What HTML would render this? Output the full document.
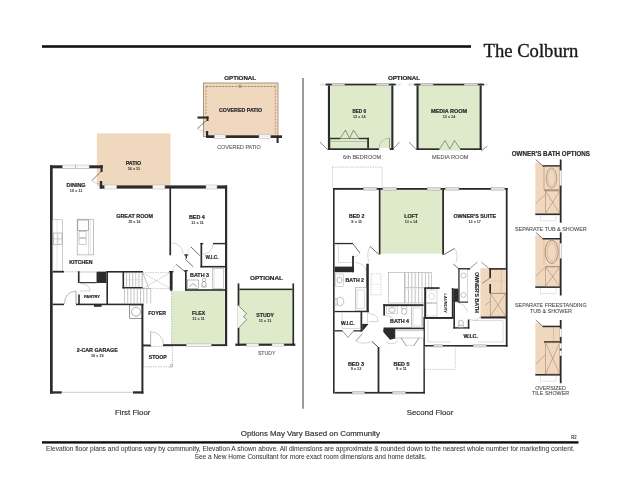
<!DOCTYPE html><html><head><meta charset="utf-8"><style>html,body{margin:0;padding:0;background:#fff;}svg{display:block;will-change:transform;}</style></head><body><svg width="621" height="480" viewBox="0 0 621 480"><rect x="42" y="45.2" width="429.00" height="2.60" fill="#111"/>
<text x="483.6" y="56.8" font-family="'Liberation Serif', serif" font-size="17.8" font-weight="normal" fill="#1a1a1a" stroke="#1a1a1a" stroke-width="0.35" textLength="94.60" lengthAdjust="spacingAndGlyphs">The Colburn</text>
<rect x="302" y="78" width="2.00" height="330.70" fill="#9a9a9a"/>
<text x="240.8" y="436.2" font-family="'Liberation Sans', sans-serif" font-size="7.4" font-weight="normal" fill="#333" stroke="#333" stroke-width="0.18" textLength="139.20" lengthAdjust="spacingAndGlyphs">Options May Vary Based on Community</text>
<text x="571.2" y="439.3" font-family="'Liberation Sans', sans-serif" font-size="4.6" font-weight="normal" fill="#444" stroke="#444" stroke-width="0.18" textLength="5.40" lengthAdjust="spacingAndGlyphs">R2</text>
<rect x="42" y="441.2" width="536.50" height="2.40" fill="#111"/>
<text x="46.1" y="451.4" font-family="'Liberation Sans', sans-serif" font-size="6.6" font-weight="normal" fill="#3a3a3a" stroke="#3a3a3a" stroke-width="0.06" textLength="528.60" lengthAdjust="spacingAndGlyphs">Elevation floor plans and options vary by community, Elevation A shown above. All dimensions are approximate &amp; rounded down to the nearest whole number for marketing content.</text>
<text x="194.6" y="459.2" font-family="'Liberation Sans', sans-serif" font-size="6.6" font-weight="normal" fill="#3a3a3a" stroke="#3a3a3a" stroke-width="0.06" textLength="231.90" lengthAdjust="spacingAndGlyphs">See a New Home Consultant for more exact room dimensions and home details.</text>
<text x="224.3" y="80" font-family="'Liberation Sans', sans-serif" font-size="6.0" font-weight="bold" fill="#2a2a2a" stroke="#2a2a2a" stroke-width="0.2" textLength="31.70" lengthAdjust="spacingAndGlyphs">OPTIONAL</text>
<rect x="203.5" y="83" width="74.50" height="53.50" fill="#f0d8be" stroke="#a88c74" stroke-width="0.9"/>
<line x1="206" y1="86.5" x2="275.5" y2="86.5" stroke="#8a6e58" stroke-width="0.8" stroke-dasharray="2,1.2"/>
<line x1="275.3" y1="86.5" x2="275.3" y2="134" stroke="#9a7e68" stroke-width="0.7" stroke-dasharray="2,1.2"/>
<line x1="206" y1="86.5" x2="206" y2="115" stroke="#9a7e68" stroke-width="0.7" stroke-dasharray="2,1.2"/>
<rect x="238.5" y="84.8" width="3.00" height="3.00" fill="#b89878" stroke="none" stroke-width="0.6"/>
<rect x="206" y="135.3" width="76.00" height="2.70" fill="#2b2b2b"/>
<rect x="214.4" y="134.9" width="11.20" height="3.50" fill="#fff" stroke="#aaa" stroke-width="0.5"/>
<line x1="214.4" y1="136.65" x2="225.6" y2="136.65" stroke="#c8c8c8" stroke-width="0.35"/>
<rect x="259" y="134.9" width="11.60" height="3.50" fill="#fff" stroke="#aaa" stroke-width="0.5"/>
<line x1="259" y1="136.65" x2="270.6" y2="136.65" stroke="#c8c8c8" stroke-width="0.35"/>
<rect x="276.6" y="136" width="2.00" height="7.00" fill="#2b2b2b"/>
<rect x="197.5" y="116.5" width="11.00" height="2.10" fill="#2b2b2b"/>
<rect x="206.5" y="116.5" width="2.00" height="4.50" fill="#2b2b2b"/>
<line x1="197.5" y1="128.5" x2="206.5" y2="120.5" stroke="#444" stroke-width="0.7"/>
<path d="M197.5 128.5 Q204 132 206.5 133" stroke="#aaa" stroke-width="0.5" fill="none"/>
<rect x="206" y="131" width="2.20" height="7.00" fill="#2b2b2b"/>
<text x="219" y="112.4" font-family="'Liberation Sans', sans-serif" font-size="5.0" font-weight="bold" fill="#2a2a2a" stroke="#2a2a2a" stroke-width="0.2" textLength="43.20" lengthAdjust="spacingAndGlyphs">COVERED PATIO</text>
<text x="217.2" y="149.4" font-family="'Liberation Sans', sans-serif" font-size="5.4" font-weight="normal" fill="#555" stroke="#555" stroke-width="0.08" textLength="43.60" lengthAdjust="spacingAndGlyphs">COVERED PATIO</text>
<rect x="96.8" y="133.4" width="73.70" height="52.60" fill="#f0d8be" stroke="none" stroke-width="0.6"/>
<text x="125.7" y="164.5" font-family="'Liberation Sans', sans-serif" font-size="4.9" font-weight="bold" fill="#2a2a2a" stroke="#2a2a2a" stroke-width="0.2" textLength="15.50" lengthAdjust="spacingAndGlyphs">PATIO</text>
<text x="127.67" y="169.70000000000002" font-family="'Liberation Sans', sans-serif" font-size="3.9" font-weight="bold" fill="#3a3a3a" stroke="#3a3a3a" stroke-width="0.05" textLength="12.46" lengthAdjust="spacingAndGlyphs">16 x 11</text>
<rect x="50" y="165.3" width="52.80" height="3.00" fill="#2b2b2b"/>
<rect x="62.5" y="165.0" width="13.30" height="3.60" fill="#fff" stroke="#aaa" stroke-width="0.5"/>
<line x1="62.5" y1="166.8" x2="75.8" y2="166.8" stroke="#c8c8c8" stroke-width="0.35"/>
<rect x="75.8" y="165.0" width="13.30" height="3.60" fill="#fff" stroke="#aaa" stroke-width="0.5"/>
<line x1="75.8" y1="166.8" x2="89.1" y2="166.8" stroke="#c8c8c8" stroke-width="0.35"/>
<rect x="100.5" y="165.3" width="2.10" height="6.70" fill="#2b2b2b"/>
<line x1="92" y1="180.5" x2="101" y2="171.5" stroke="#444" stroke-width="0.7"/>
<path d="M92 180.5 Q95 184 100.5 184" stroke="#aaa" stroke-width="0.5" fill="none"/>
<rect x="99.8" y="181" width="2.40" height="7.60" fill="#2b2b2b"/>
<rect x="50" y="165.3" width="2.70" height="228.30" fill="#2b2b2b"/>
<rect x="99.8" y="185.4" width="127.20" height="3.20" fill="#2b2b2b"/>
<rect x="104.5" y="185.0" width="12.10" height="4.00" fill="#fff" stroke="#aaa" stroke-width="0.5"/>
<line x1="104.5" y1="187.0" x2="116.6" y2="187.0" stroke="#c8c8c8" stroke-width="0.35"/>
<rect x="152.8" y="185.0" width="12.10" height="4.00" fill="#fff" stroke="#aaa" stroke-width="0.5"/>
<line x1="152.8" y1="187.0" x2="164.9" y2="187.0" stroke="#c8c8c8" stroke-width="0.35"/>
<rect x="206" y="185.0" width="11.00" height="4.00" fill="#fff" stroke="#aaa" stroke-width="0.5"/>
<line x1="206" y1="187.0" x2="217" y2="187.0" stroke="#c8c8c8" stroke-width="0.35"/>
<rect x="169.4" y="188" width="1.70" height="67.30" fill="#2b2b2b"/>
<rect x="225" y="185.4" width="2.20" height="160.60" fill="#2b2b2b"/>
<text x="66.6" y="186.5" font-family="'Liberation Sans', sans-serif" font-size="4.9" font-weight="bold" fill="#2a2a2a" stroke="#2a2a2a" stroke-width="0.2" textLength="19.00" lengthAdjust="spacingAndGlyphs">DINING</text>
<text x="69.87" y="191.5" font-family="'Liberation Sans', sans-serif" font-size="3.9" font-weight="bold" fill="#3a3a3a" stroke="#3a3a3a" stroke-width="0.05" textLength="12.46" lengthAdjust="spacingAndGlyphs">10 x 11</text>
<text x="116.3" y="218.3" font-family="'Liberation Sans', sans-serif" font-size="4.9" font-weight="bold" fill="#2a2a2a" stroke="#2a2a2a" stroke-width="0.2" textLength="36.70" lengthAdjust="spacingAndGlyphs">GREAT ROOM</text>
<text x="128.17" y="223.4" font-family="'Liberation Sans', sans-serif" font-size="3.9" font-weight="bold" fill="#3a3a3a" stroke="#3a3a3a" stroke-width="0.05" textLength="12.46" lengthAdjust="spacingAndGlyphs">15 x 16</text>
<text x="189" y="218.7" font-family="'Liberation Sans', sans-serif" font-size="4.9" font-weight="bold" fill="#2a2a2a" stroke="#2a2a2a" stroke-width="0.2" textLength="15.80" lengthAdjust="spacingAndGlyphs">BED 4</text>
<text x="191.27" y="223.6" font-family="'Liberation Sans', sans-serif" font-size="3.9" font-weight="bold" fill="#3a3a3a" stroke="#3a3a3a" stroke-width="0.05" textLength="12.46" lengthAdjust="spacingAndGlyphs">11 x 11</text>
<rect x="52.8" y="219.8" width="9.80" height="51.20" fill="#fff" stroke="#999" stroke-width="0.5"/>
<rect x="53.5" y="233" width="8.50" height="11.70" fill="#fff" stroke="#888" stroke-width="0.5"/>
<line x1="57.8" y1="233" x2="57.8" y2="244.7" stroke="#888" stroke-width="0.4"/>
<line x1="53.5" y1="238.8" x2="62" y2="238.8" stroke="#888" stroke-width="0.4"/>
<rect x="77.2" y="219.2" width="16.20" height="35.70" fill="#fff" stroke="#999" stroke-width="0.6"/>
<rect x="77.8" y="220" width="10.70" height="10.60" fill="#fff" stroke="#777" stroke-width="0.6"/>
<rect x="79" y="231.6" width="7.10" height="6.00" fill="#fff" stroke="#999" stroke-width="0.5"/>
<rect x="79" y="238.6" width="7.10" height="5.80" fill="#fff" stroke="#999" stroke-width="0.5"/>
<line x1="88.5" y1="219.2" x2="88.5" y2="254.9" stroke="#aaa" stroke-width="0.4"/>
<line x1="90.4" y1="219.2" x2="90.4" y2="254.9" stroke="#bbb" stroke-width="0.4"/>
<line x1="57" y1="219.8" x2="57" y2="271" stroke="#ccc" stroke-width="0.4"/>
<text x="69.2" y="263.8" font-family="'Liberation Sans', sans-serif" font-size="4.9" font-weight="bold" fill="#2a2a2a" stroke="#2a2a2a" stroke-width="0.2" textLength="23.30" lengthAdjust="spacingAndGlyphs">KITCHEN</text>
<rect x="52.7" y="270.9" width="11.30" height="1.70" fill="#2b2b2b"/>
<line x1="64" y1="271.8" x2="78" y2="271.8" stroke="#999" stroke-width="0.6" stroke-dasharray="1.5,1"/>
<rect x="77.9" y="271.3" width="1.90" height="11.70" fill="#2b2b2b"/>
<rect x="79.8" y="272" width="16.90" height="10.30" fill="#fff" stroke="#999" stroke-width="0.5"/>
<rect x="96.7" y="271.6" width="9.70" height="11.40" fill="#2b2b2b"/>
<rect x="79.8" y="282.1" width="16.90" height="1.10" fill="#2b2b2b"/>
<rect x="106.4" y="271.3" width="1.60" height="33.70" fill="#2b2b2b"/>
<rect x="106.4" y="271.0" width="36.60" height="1.60" fill="#2b2b2b"/>
<rect x="78.2" y="294.5" width="1.60" height="10.50" fill="#2b2b2b"/>
<path d="M79.8 283.5 Q90 284 90 291" stroke="#aaa" stroke-width="0.5" fill="none"/>
<line x1="79.8" y1="291" x2="90" y2="291" stroke="#aaa" stroke-width="0.5"/>
<text x="83.9" y="298.2" font-family="'Liberation Sans', sans-serif" font-size="4.3" font-weight="bold" fill="#2a2a2a" stroke="#2a2a2a" stroke-width="0.2" textLength="16.10" lengthAdjust="spacingAndGlyphs">PANTRY</text>
<rect x="52.7" y="303.6" width="11.30" height="1.60" fill="#2b2b2b"/>
<rect x="76" y="303.6" width="67.40" height="1.60" fill="#2b2b2b"/>
<path d="M64.5 304 Q64.5 292 76 291" stroke="#aaa" stroke-width="0.5" fill="none"/>
<line x1="76" y1="291" x2="76" y2="304" stroke="#666" stroke-width="0.6"/>
<rect x="94" y="305" width="7.60" height="1.80" fill="#2b2b2b"/>
<rect x="122.5" y="271.3" width="1.60" height="17.20" fill="#2b2b2b"/>
<rect x="122.5" y="287" width="20.10" height="1.50" fill="#2b2b2b"/>
<line x1="126.5" y1="272.6" x2="126.5" y2="287" stroke="#888" stroke-width="0.5"/>
<line x1="129.6" y1="272.6" x2="129.6" y2="287" stroke="#888" stroke-width="0.5"/>
<line x1="132.7" y1="272.6" x2="132.7" y2="287" stroke="#888" stroke-width="0.5"/>
<line x1="135.8" y1="272.6" x2="135.8" y2="287" stroke="#888" stroke-width="0.5"/>
<line x1="138.9" y1="272.6" x2="138.9" y2="287" stroke="#888" stroke-width="0.5"/>
<line x1="142.0" y1="272.6" x2="142.0" y2="287" stroke="#888" stroke-width="0.5"/>
<line x1="124.5" y1="279.8" x2="142.5" y2="279.8" stroke="#bbb" stroke-width="0.3"/>
<rect x="142.6" y="272.6" width="27.70" height="16.00" fill="none" stroke="#999" stroke-width="0.5" stroke-dasharray="1.5,1"/>
<line x1="142.6" y1="272.6" x2="170.3" y2="288.6" stroke="#aaa" stroke-width="0.4"/>
<line x1="142.6" y1="288.6" x2="170.3" y2="272.6" stroke="#aaa" stroke-width="0.4"/>
<line x1="142.6" y1="272.6" x2="149" y2="288.6" stroke="#888" stroke-width="0.5"/>
<line x1="124.5" y1="288.5" x2="124.5" y2="303.5" stroke="#888" stroke-width="0.5"/>
<line x1="127.7" y1="288.5" x2="127.7" y2="303.5" stroke="#888" stroke-width="0.5"/>
<line x1="130.9" y1="288.5" x2="130.9" y2="303.5" stroke="#888" stroke-width="0.5"/>
<line x1="134.1" y1="288.5" x2="134.1" y2="303.5" stroke="#888" stroke-width="0.5"/>
<line x1="137.3" y1="288.5" x2="137.3" y2="303.5" stroke="#888" stroke-width="0.5"/>
<line x1="140.5" y1="288.5" x2="140.5" y2="303.5" stroke="#888" stroke-width="0.5"/>
<line x1="143.7" y1="288.5" x2="143.7" y2="303.5" stroke="#888" stroke-width="0.5"/>
<line x1="146.9" y1="288.5" x2="146.9" y2="303.5" stroke="#888" stroke-width="0.5"/>
<line x1="123.3" y1="288.5" x2="150.7" y2="288.5" stroke="#999" stroke-width="0.5"/>
<line x1="150.7" y1="288.5" x2="150.7" y2="303.5" stroke="#999" stroke-width="0.5"/>
<rect x="170.5" y="271.3" width="2.10" height="19.20" fill="#2b2b2b"/>
<rect x="129.7" y="305.2" width="12.70" height="13.30" fill="#fff" stroke="#555" stroke-width="0.6"/>
<circle cx="136" cy="311.8" r="4.5" fill="none" stroke="#777" stroke-width="0.6"/>
<text x="148.2" y="314.9" font-family="'Liberation Sans', sans-serif" font-size="4.9" font-weight="bold" fill="#2a2a2a" stroke="#2a2a2a" stroke-width="0.2" textLength="17.90" lengthAdjust="spacingAndGlyphs">FOYER</text>
<rect x="169.8" y="271.5" width="2.20" height="19.00" fill="#2b2b2b"/>
<rect x="185" y="270.2" width="1.70" height="20.60" fill="#2b2b2b"/>
<rect x="185" y="289.2" width="42.00" height="1.70" fill="#2b2b2b"/>
<rect x="200.5" y="243" width="1.70" height="24.40" fill="#2b2b2b"/>
<rect x="200.5" y="242.9" width="2.70" height="1.40" fill="#2b2b2b"/>
<rect x="213" y="242.9" width="12.50" height="1.40" fill="#2b2b2b"/>
<rect x="200.5" y="265.9" width="25.00" height="1.60" fill="#2b2b2b"/>
<path d="M213 244 A10 10 0 0 1 203 254" stroke="#aaa" stroke-width="0.5" fill="none"/>
<text x="205.6" y="258.7" font-family="'Liberation Sans', sans-serif" font-size="4.6" font-weight="bold" fill="#2a2a2a" stroke="#2a2a2a" stroke-width="0.2" textLength="12.90" lengthAdjust="spacingAndGlyphs">W.I.C.</text>
<text x="190" y="277" font-family="'Liberation Sans', sans-serif" font-size="4.9" font-weight="bold" fill="#2a2a2a" stroke="#2a2a2a" stroke-width="0.2" textLength="19.00" lengthAdjust="spacingAndGlyphs">BATH 3</text>
<path d="M172 243 A11 11 0 0 1 183 254" stroke="#aaa" stroke-width="0.5" fill="none"/>
<line x1="190.8" y1="246.8" x2="199.8" y2="255.6" stroke="#333" stroke-width="0.7"/>
<path d="M190.8 246.8 A9 9 0 0 0 187.5 254.5" stroke="#bbb" stroke-width="0.4" fill="none"/>
<rect x="184.2" y="254.4" width="4.10" height="1.10" fill="#2b2b2b"/>
<rect x="185.6" y="254.4" width="1.40" height="4.10" fill="#2b2b2b"/>
<line x1="185.4" y1="259.3" x2="193.3" y2="266.8" stroke="#333" stroke-width="0.7"/>
<line x1="176.2" y1="264.3" x2="185" y2="271.8" stroke="#333" stroke-width="0.7"/>
<path d="M176.2 264.3 A9 9 0 0 0 172.5 271.5" stroke="#bbb" stroke-width="0.4" fill="none"/>
<rect x="184.2" y="270.2" width="3.80" height="1.00" fill="#2b2b2b"/>
<rect x="169" y="271.1" width="4.50" height="1.20" fill="#2b2b2b"/>
<rect x="187.5" y="280" width="11.00" height="8.50" fill="#fff" stroke="#777" stroke-width="0.5"/>
<path d="M189.5 287 Q193 280.5 196.5 287" stroke="#777" stroke-width="0.6" fill="none"/>
<path d="M202 287 Q201 282 204 281 Q207 282 206 287 Z" stroke="#777" stroke-width="0.6" fill="none"/>
<circle cx="204" cy="280" r="1.8" fill="none" stroke="#777" stroke-width="0.5"/>
<rect x="212.5" y="268.5" width="11.00" height="20.00" fill="#fff" stroke="#999" stroke-width="0.5"/>
<line x1="214" y1="268.5" x2="214" y2="288.5" stroke="#aaa" stroke-width="0.4"/>
<rect x="172" y="290.9" width="52.80" height="53.40" fill="#deeaca" stroke="none" stroke-width="0.6"/>
<line x1="171.6" y1="290.9" x2="171.6" y2="346" stroke="#8a9a7a" stroke-width="0.6" stroke-dasharray="1.5,1"/>
<rect x="143" y="344.5" width="8.00" height="1.90" fill="#2b2b2b"/>
<rect x="163" y="344.2" width="64.00" height="1.90" fill="#2b2b2b"/>
<rect x="186.4" y="343.9" width="24.80" height="2.50" fill="#fff" stroke="#aaa" stroke-width="0.5"/>
<line x1="186.4" y1="345.15" x2="211.2" y2="345.15" stroke="#c8c8c8" stroke-width="0.35"/>
<path d="M150.6 345 L150.6 331.6 A13 13 0 0 1 163.5 345" stroke="#999" stroke-width="0.5" fill="none"/>
<line x1="150.6" y1="331.6" x2="150.6" y2="345" stroke="#bbb" stroke-width="0.9"/>
<text x="192" y="315.2" font-family="'Liberation Sans', sans-serif" font-size="4.9" font-weight="bold" fill="#2a2a2a" stroke="#2a2a2a" stroke-width="0.2" textLength="13.10" lengthAdjust="spacingAndGlyphs">FLEX</text>
<text x="192.27" y="320.29999999999995" font-family="'Liberation Sans', sans-serif" font-size="3.9" font-weight="bold" fill="#3a3a3a" stroke="#3a3a3a" stroke-width="0.05" textLength="12.46" lengthAdjust="spacingAndGlyphs">11 x 11</text>
<rect x="143.2" y="346.4" width="29.20" height="20.40" fill="none" stroke="#999" stroke-width="0.6" stroke-dasharray="1.5,1"/>
<rect x="170.2" y="364.6" width="2.40" height="2.40" fill="none" stroke="#999" stroke-width="0.5"/>
<text x="148.7" y="358.7" font-family="'Liberation Sans', sans-serif" font-size="4.9" font-weight="bold" fill="#2a2a2a" stroke="#2a2a2a" stroke-width="0.2" textLength="18.10" lengthAdjust="spacingAndGlyphs">STOOP</text>
<rect x="141.4" y="304" width="2.00" height="89.60" fill="#2b2b2b"/>
<rect x="50" y="391.3" width="11.70" height="2.30" fill="#2b2b2b"/>
<rect x="133" y="391.3" width="10.40" height="2.30" fill="#2b2b2b"/>
<line x1="61.7" y1="392.3" x2="133" y2="392.3" stroke="#999" stroke-width="0.5"/>
<text x="76.7" y="351.9" font-family="'Liberation Sans', sans-serif" font-size="4.9" font-weight="bold" fill="#2a2a2a" stroke="#2a2a2a" stroke-width="0.2" textLength="41.10" lengthAdjust="spacingAndGlyphs">2-CAR GARAGE</text>
<text x="91.02" y="356.59999999999997" font-family="'Liberation Sans', sans-serif" font-size="3.9" font-weight="bold" fill="#3a3a3a" stroke="#3a3a3a" stroke-width="0.05" textLength="12.46" lengthAdjust="spacingAndGlyphs">19 x 19</text>
<path d="M64.5 304 Q64.5 292 76 291" stroke="#aaa" stroke-width="0.5" fill="none"/>
<text x="250" y="280.4" font-family="'Liberation Sans', sans-serif" font-size="6.0" font-weight="bold" fill="#2a2a2a" stroke="#2a2a2a" stroke-width="0.2" textLength="33.00" lengthAdjust="spacingAndGlyphs">OPTIONAL</text>
<rect x="239.4" y="290" width="53.00" height="53.80" fill="#deeaca" stroke="none" stroke-width="0.6"/>
<rect x="237.6" y="283.4" width="1.80" height="62.40" fill="#2b2b2b"/>
<rect x="292.4" y="283.4" width="1.70" height="62.40" fill="#2b2b2b"/>
<rect x="239.4" y="288.6" width="53.00" height="1.50" fill="#2b2b2b"/>
<rect x="235.3" y="343.6" width="60.00" height="2.20" fill="#2b2b2b"/>
<rect x="246.6" y="343.3" width="12.00" height="2.80" fill="#fff" stroke="#aaa" stroke-width="0.5"/>
<line x1="246.6" y1="344.70000000000005" x2="258.6" y2="344.70000000000005" stroke="#c8c8c8" stroke-width="0.35"/>
<rect x="272" y="343.3" width="12.00" height="2.80" fill="#fff" stroke="#aaa" stroke-width="0.5"/>
<line x1="272" y1="344.70000000000005" x2="284" y2="344.70000000000005" stroke="#c8c8c8" stroke-width="0.35"/>
<rect x="237.4" y="305.5" width="2.20" height="22.50" fill="#fff" stroke="none" stroke-width="0.6"/>
<path d="M238.5 305.5 L246.7 313.8 L243.5 316.7 L246.7 319.6 L238.5 328 Z" stroke="none" stroke-width="0" fill="#f1f5ea"/>
<path d="M238.5 305.5 L246.7 313.8 L243.5 316.7 L246.7 319.6 L238.5 328" stroke="#5a6650" stroke-width="0.7" fill="none"/>
<text x="256.3" y="316.7" font-family="'Liberation Sans', sans-serif" font-size="4.9" font-weight="bold" fill="#2a2a2a" stroke="#2a2a2a" stroke-width="0.2" textLength="17.60" lengthAdjust="spacingAndGlyphs">STUDY</text>
<text x="258.87" y="321.7" font-family="'Liberation Sans', sans-serif" font-size="3.9" font-weight="bold" fill="#3a3a3a" stroke="#3a3a3a" stroke-width="0.05" textLength="12.46" lengthAdjust="spacingAndGlyphs">11 x 11</text>
<text x="257.9" y="354.9" font-family="'Liberation Sans', sans-serif" font-size="4.9" font-weight="normal" fill="#555" stroke="#555" stroke-width="0.08" textLength="17.60" lengthAdjust="spacingAndGlyphs">STUDY</text>
<text x="387.9" y="80" font-family="'Liberation Sans', sans-serif" font-size="6.0" font-weight="bold" fill="#2a2a2a" stroke="#2a2a2a" stroke-width="0.2" textLength="32.10" lengthAdjust="spacingAndGlyphs">OPTIONAL</text>
<rect x="329.9" y="85.4" width="61.40" height="63.00" fill="#deeaca" stroke="none" stroke-width="0.6"/>
<rect x="327.9" y="83.7" width="2.10" height="66.30" fill="#2b2b2b"/>
<rect x="391.3" y="83.7" width="2.10" height="66.30" fill="#2b2b2b"/>
<rect x="320.2" y="83.9" width="80.60" height="1.30" fill="#e8e8e8" stroke="#d0d0d0" stroke-width="0.3"/>
<rect x="325.59999999999997" y="83.7" width="70.10" height="1.70" fill="#2b2b2b"/>
<rect x="327.9" y="148.3" width="65.50" height="1.70" fill="#2b2b2b"/>
<rect x="332" y="83.4" width="12.60" height="2.30" fill="#dfe3d6" stroke="#aaa" stroke-width="0.5"/>
<line x1="332" y1="84.55000000000001" x2="344.6" y2="84.55000000000001" stroke="#c8c8c8" stroke-width="0.35"/>
<rect x="376.5" y="83.4" width="12.30" height="2.30" fill="#dfe3d6" stroke="#aaa" stroke-width="0.5"/>
<line x1="376.5" y1="84.55000000000001" x2="388.8" y2="84.55000000000001" stroke="#c8c8c8" stroke-width="0.35"/>
<rect x="330" y="138.3" width="38.70" height="10.00" fill="#deeaca" stroke="#444" stroke-width="0.6"/>
<rect x="367.2" y="137.8" width="1.70" height="10.50" fill="#2b2b2b"/>
<rect x="330" y="137.8" width="10.00" height="1.40" fill="#2b2b2b"/>
<rect x="359" y="137.8" width="9.90" height="1.40" fill="#2b2b2b"/>
<line x1="331" y1="141.5" x2="367" y2="141.5" stroke="#777" stroke-width="0.4"/>
<path d="M340 138.5 L345.5 130 L349.5 138.5 M349.5 138.5 L353.5 130 L359 138.5" stroke="#555" stroke-width="0.6" fill="none"/>
<rect x="379" y="147.8" width="10.80" height="2.70" fill="#fff" stroke="none" stroke-width="0.6"/>
<path d="M379 149 Q379 139 389.5 138" stroke="#999" stroke-width="0.5" fill="none"/>
<line x1="389.5" y1="138" x2="389.5" y2="149" stroke="#555" stroke-width="0.6"/>
<line x1="320" y1="142" x2="327.9" y2="150" stroke="#444" stroke-width="0.6"/>
<line x1="392.1" y1="150" x2="399.5" y2="142" stroke="#444" stroke-width="0.6"/>
<text x="352.5" y="112.5" font-family="'Liberation Sans', sans-serif" font-size="5.0" font-weight="bold" fill="#2a2a2a" stroke="#2a2a2a" stroke-width="0.2" textLength="13.50" lengthAdjust="spacingAndGlyphs">BED 6</text>
<text x="353.02" y="117.80000000000001" font-family="'Liberation Sans', sans-serif" font-size="3.9" font-weight="bold" fill="#3a3a3a" stroke="#3a3a3a" stroke-width="0.05" textLength="12.46" lengthAdjust="spacingAndGlyphs">13 x 14</text>
<text x="343.1" y="159.1" font-family="'Liberation Sans', sans-serif" font-size="5.2" font-weight="normal" fill="#555" stroke="#555" stroke-width="0.08" textLength="38.15" lengthAdjust="spacingAndGlyphs">6th BEDROOM</text>
<rect x="418.5" y="85.4" width="61.10" height="63.00" fill="#deeaca" stroke="none" stroke-width="0.6"/>
<rect x="416.5" y="83.7" width="2.10" height="66.30" fill="#2b2b2b"/>
<rect x="479.6" y="83.7" width="2.10" height="66.30" fill="#2b2b2b"/>
<rect x="408.8" y="83.9" width="78.60" height="1.30" fill="#e8e8e8" stroke="#d0d0d0" stroke-width="0.3"/>
<rect x="414.2" y="83.7" width="69.80" height="1.70" fill="#2b2b2b"/>
<rect x="416.5" y="148.3" width="65.20" height="1.70" fill="#2b2b2b"/>
<rect x="420.7" y="83.4" width="12.30" height="2.30" fill="#dfe3d6" stroke="#aaa" stroke-width="0.5"/>
<line x1="420.7" y1="84.55000000000001" x2="433" y2="84.55000000000001" stroke="#c8c8c8" stroke-width="0.35"/>
<rect x="464.4" y="83.4" width="13.30" height="2.30" fill="#dfe3d6" stroke="#aaa" stroke-width="0.5"/>
<line x1="464.4" y1="84.55000000000001" x2="477.7" y2="84.55000000000001" stroke="#c8c8c8" stroke-width="0.35"/>
<rect x="439.4" y="147.8" width="20.80" height="2.70" fill="#deeaca" stroke="none" stroke-width="0.6"/>
<path d="M439.4 149 L445 140.5 L449.8 149 M449.8 149 L454.5 140.5 L460.2 149" stroke="#555" stroke-width="0.6" fill="none"/>
<line x1="409" y1="142" x2="416.5" y2="150" stroke="#444" stroke-width="0.6"/>
<line x1="481.4" y1="151" x2="487.4" y2="146" stroke="#444" stroke-width="0.6"/>
<text x="431" y="112.5" font-family="'Liberation Sans', sans-serif" font-size="5.0" font-weight="bold" fill="#2a2a2a" stroke="#2a2a2a" stroke-width="0.2" textLength="36.00" lengthAdjust="spacingAndGlyphs">MEDIA ROOM</text>
<text x="442.77" y="117.80000000000001" font-family="'Liberation Sans', sans-serif" font-size="3.9" font-weight="bold" fill="#3a3a3a" stroke="#3a3a3a" stroke-width="0.05" textLength="12.46" lengthAdjust="spacingAndGlyphs">13 x 14</text>
<text x="432" y="159.1" font-family="'Liberation Sans', sans-serif" font-size="5.2" font-weight="normal" fill="#555" stroke="#555" stroke-width="0.08" textLength="36.50" lengthAdjust="spacingAndGlyphs">MEDIA ROOM</text>
<rect x="332.5" y="167.1" width="49.70" height="20.90" fill="none" stroke="#aaa" stroke-width="0.6" stroke-dasharray="1.5,1"/>
<rect x="380.5" y="189.8" width="61.50" height="63.90" fill="#deeaca" stroke="none" stroke-width="0.6"/>
<rect x="333" y="188" width="174.60" height="1.80" fill="#2b2b2b"/>
<rect x="333" y="188" width="1.60" height="205.60" fill="#2b2b2b"/>
<rect x="363.4" y="187.6" width="13.20" height="2.60" fill="#e4e6df" stroke="#aaa" stroke-width="0.5"/>
<line x1="363.4" y1="188.89999999999998" x2="376.6" y2="188.89999999999998" stroke="#c8c8c8" stroke-width="0.35"/>
<rect x="382.9" y="187.6" width="13.50" height="2.60" fill="#e4e6df" stroke="#aaa" stroke-width="0.5"/>
<line x1="382.9" y1="188.89999999999998" x2="396.4" y2="188.89999999999998" stroke="#c8c8c8" stroke-width="0.35"/>
<rect x="427.3" y="187.6" width="13.10" height="2.60" fill="#e4e6df" stroke="#aaa" stroke-width="0.5"/>
<line x1="427.3" y1="188.89999999999998" x2="440.4" y2="188.89999999999998" stroke="#c8c8c8" stroke-width="0.35"/>
<rect x="445.3" y="187.6" width="13.60" height="2.60" fill="#e4e6df" stroke="#aaa" stroke-width="0.5"/>
<line x1="445.3" y1="188.89999999999998" x2="458.9" y2="188.89999999999998" stroke="#c8c8c8" stroke-width="0.35"/>
<rect x="491" y="187.6" width="13.60" height="2.60" fill="#e4e6df" stroke="#aaa" stroke-width="0.5"/>
<line x1="491" y1="188.89999999999998" x2="504.6" y2="188.89999999999998" stroke="#c8c8c8" stroke-width="0.35"/>
<rect x="378.8" y="188" width="1.70" height="66.40" fill="#2b2b2b"/>
<rect x="442.2" y="188" width="1.80" height="66.60" fill="#2b2b2b"/>
<rect x="505.8" y="188" width="1.80" height="158.60" fill="#2b2b2b"/>
<text x="349" y="217.75" font-family="'Liberation Sans', sans-serif" font-size="5.0" font-weight="bold" fill="#2a2a2a" stroke="#2a2a2a" stroke-width="0.2" textLength="15.40" lengthAdjust="spacingAndGlyphs">BED 2</text>
<text x="351.36" y="222.8" font-family="'Liberation Sans', sans-serif" font-size="3.9" font-weight="bold" fill="#3a3a3a" stroke="#3a3a3a" stroke-width="0.05" textLength="10.68" lengthAdjust="spacingAndGlyphs">9 x 11</text>
<text x="404.3" y="218" font-family="'Liberation Sans', sans-serif" font-size="5.0" font-weight="bold" fill="#2a2a2a" stroke="#2a2a2a" stroke-width="0.2" textLength="13.50" lengthAdjust="spacingAndGlyphs">LOFT</text>
<text x="404.77" y="222.8" font-family="'Liberation Sans', sans-serif" font-size="3.9" font-weight="bold" fill="#3a3a3a" stroke="#3a3a3a" stroke-width="0.05" textLength="12.46" lengthAdjust="spacingAndGlyphs">13 x 14</text>
<text x="453.4" y="218" font-family="'Liberation Sans', sans-serif" font-size="5.0" font-weight="bold" fill="#2a2a2a" stroke="#2a2a2a" stroke-width="0.2" textLength="42.60" lengthAdjust="spacingAndGlyphs">OWNER'S SUITE</text>
<text x="468.47" y="222.8" font-family="'Liberation Sans', sans-serif" font-size="3.9" font-weight="bold" fill="#3a3a3a" stroke="#3a3a3a" stroke-width="0.05" textLength="12.46" lengthAdjust="spacingAndGlyphs">13 x 17</text>
<line x1="370" y1="246.3" x2="378.8" y2="254.4" stroke="#333" stroke-width="0.7"/>
<path d="M370 246.3 Q366 254 369 262" stroke="#aaa" stroke-width="0.5" fill="none"/>
<line x1="444" y1="254.5" x2="454.6" y2="248.5" stroke="#333" stroke-width="0.7"/>
<path d="M454.6 248.5 Q459 255 456 262" stroke="#aaa" stroke-width="0.5" fill="none"/>
<rect x="334.6" y="242.9" width="18.50" height="1.30" fill="#2b2b2b"/>
<line x1="353.1" y1="244" x2="360" y2="253" stroke="#333" stroke-width="0.7"/>
<path d="M360 253 Q356 258 353.5 256" stroke="#aaa" stroke-width="0.4" fill="none"/>
<rect x="352.1" y="255.9" width="1.80" height="16.30" fill="#2b2b2b"/>
<rect x="334.6" y="266.6" width="19.30" height="5.60" fill="#2b2b2b"/>
<path d="M338.5 245 L338.5 262.5 L352 262.5" stroke="#bbb" stroke-width="0.5" fill="none"/>
<path d="M355 262.5 Q365 263 366.5 272" stroke="#aaa" stroke-width="0.5" fill="none"/>
<rect x="366.3" y="263.7" width="2.50" height="48.60" fill="#2b2b2b"/>
<rect x="334.6" y="310.9" width="34.20" height="1.30" fill="#2b2b2b"/>
<rect x="355.4" y="287.8" width="10.90" height="22.50" fill="#fff" stroke="#888" stroke-width="0.5"/>
<rect x="357" y="290" width="7.80" height="18.50" fill="#fff" stroke="#aaa" stroke-width="0.4"/>
<rect x="335.5" y="274" width="8.00" height="12.50" fill="#fff" stroke="#999" stroke-width="0.4"/>
<ellipse cx="339.5" cy="280" rx="2.6" ry="3" fill="none" stroke="#777" stroke-width="0.5"/>
<path d="M337 302 Q337 297 340 297 Q344 297.5 344 302 Q343 306 340 306 Q337 306 337 302 Z" stroke="#888" stroke-width="0.5" fill="none"/>
<rect x="335" y="298.5" width="2.00" height="7.00" fill="#fff" stroke="#888" stroke-width="0.4"/>
<text x="345.6" y="282.2" font-family="'Liberation Sans', sans-serif" font-size="5.0" font-weight="bold" fill="#2a2a2a" stroke="#2a2a2a" stroke-width="0.2" textLength="18.40" lengthAdjust="spacingAndGlyphs">BATH 2</text>
<rect x="371" y="273.8" width="9.90" height="21.00" fill="none" stroke="#aaa" stroke-width="0.5" stroke-dasharray="1.5,1"/>
<line x1="371" y1="284.3" x2="380.9" y2="284.3" stroke="#bbb" stroke-width="0.4" stroke-dasharray="1.5,1"/>
<rect x="334.6" y="330.2" width="7.90" height="1.30" fill="#2b2b2b"/>
<rect x="353.5" y="330.2" width="8.50" height="1.30" fill="#2b2b2b"/>
<path d="M342.5 331 L348 337.5 L353.5 331" stroke="#555" stroke-width="0.6" fill="none"/>
<rect x="360.5" y="312" width="1.70" height="19.50" fill="#2b2b2b"/>
<rect x="362.2" y="312.2" width="5.30" height="11.80" fill="#fff" stroke="#999" stroke-width="0.4"/>
<path d="M362.2 331.5 L368.5 324 L362.2 324 Z" stroke="#2b2b2b" stroke-width="0" fill="#2b2b2b"/>
<path d="M368.5 313.5 Q378 314 378 321.5 L368.5 321.5" stroke="#aaa" stroke-width="0.5" fill="none"/>
<path d="M342 312.5 L342 328.5 L360.5 328.5" stroke="#bbb" stroke-width="0.5" fill="none"/>
<text x="341" y="325.3" font-family="'Liberation Sans', sans-serif" font-size="4.6" font-weight="bold" fill="#2a2a2a" stroke="#2a2a2a" stroke-width="0.2" textLength="13.60" lengthAdjust="spacingAndGlyphs">W.I.C.</text>
<rect x="334.6" y="391.9" width="90.20" height="1.70" fill="#2b2b2b"/>
<rect x="352.2" y="391.5" width="12.20" height="2.50" fill="#e4e6df" stroke="#aaa" stroke-width="0.5"/>
<line x1="352.2" y1="392.75" x2="364.4" y2="392.75" stroke="#c8c8c8" stroke-width="0.35"/>
<rect x="392.5" y="391.5" width="12.80" height="2.50" fill="#e4e6df" stroke="#aaa" stroke-width="0.5"/>
<line x1="392.5" y1="392.75" x2="405.3" y2="392.75" stroke="#c8c8c8" stroke-width="0.35"/>
<rect x="377.6" y="347" width="1.80" height="46.00" fill="#2b2b2b"/>
<line x1="372" y1="341.5" x2="378.5" y2="347.5" stroke="#222" stroke-width="0.8"/>
<path d="M356 341 Q362 345 372 341.5" stroke="#aaa" stroke-width="0.5" fill="none"/>
<line x1="356" y1="341" x2="362.5" y2="333.5" stroke="#555" stroke-width="0.6"/>
<path d="M386 342 Q392 346 398 341" stroke="#aaa" stroke-width="0.5" fill="none"/>
<rect x="423.4" y="317" width="1.50" height="76.60" fill="#2b2b2b"/>
<text x="347.9" y="365.7" font-family="'Liberation Sans', sans-serif" font-size="5.0" font-weight="bold" fill="#2a2a2a" stroke="#2a2a2a" stroke-width="0.2" textLength="16.10" lengthAdjust="spacingAndGlyphs">BED 3</text>
<text x="350.66" y="370.4" font-family="'Liberation Sans', sans-serif" font-size="3.9" font-weight="bold" fill="#3a3a3a" stroke="#3a3a3a" stroke-width="0.05" textLength="10.68" lengthAdjust="spacingAndGlyphs">9 x 13</text>
<text x="393.5" y="365.7" font-family="'Liberation Sans', sans-serif" font-size="5.0" font-weight="bold" fill="#2a2a2a" stroke="#2a2a2a" stroke-width="0.2" textLength="15.90" lengthAdjust="spacingAndGlyphs">BED 5</text>
<text x="396.11" y="370.4" font-family="'Liberation Sans', sans-serif" font-size="3.9" font-weight="bold" fill="#3a3a3a" stroke="#3a3a3a" stroke-width="0.05" textLength="10.68" lengthAdjust="spacingAndGlyphs">9 x 11</text>
<rect x="383.6" y="327.5" width="40.40" height="1.70" fill="#2b2b2b"/>
<path d="M383.3 329 L395.2 329 L395.2 338.5 L390 339.8 L383.3 332 Z" stroke="#2b2b2b" stroke-width="0" fill="#2b2b2b"/>
<rect x="395.2" y="330.8" width="28.20" height="7.20" fill="#fff" stroke="#999" stroke-width="0.5"/>
<path d="M401 338 L406.5 346 M419 338 L413.5 346" stroke="#555" stroke-width="0.6" fill="none"/>
<path d="M406.5 346 Q410 344 413.5 346" stroke="#aaa" stroke-width="0.4" fill="none"/>
<rect x="383.3" y="304.2" width="40.20" height="1.90" fill="#2b2b2b"/>
<rect x="383.3" y="304.2" width="1.70" height="11.40" fill="#2b2b2b"/>
<rect x="411.5" y="306.1" width="11.30" height="21.40" fill="#fff" stroke="#888" stroke-width="0.5"/>
<rect x="413" y="308" width="8.50" height="18.00" fill="#fff" stroke="#aaa" stroke-width="0.4"/>
<rect x="386.6" y="306.5" width="11.20" height="7.00" fill="#fff" stroke="#999" stroke-width="0.4"/>
<ellipse cx="392" cy="310" rx="3.3" ry="2.4" fill="none" stroke="#777" stroke-width="0.5"/>
<ellipse cx="404.2" cy="311.5" rx="2.6" ry="3" fill="none" stroke="#777" stroke-width="0.5"/>
<rect x="401.5" y="306.2" width="5.50" height="2.00" fill="#fff" stroke="#888" stroke-width="0.4"/>
<text x="390.1" y="322.7" font-family="'Liberation Sans', sans-serif" font-size="5.0" font-weight="bold" fill="#2a2a2a" stroke="#2a2a2a" stroke-width="0.2" textLength="19.00" lengthAdjust="spacingAndGlyphs">BATH 4</text>
<path d="M385 315.6 Q394 316 394 322" stroke="#aaa" stroke-width="0.5" fill="none"/>
<rect x="388.6" y="272.6" width="42.80" height="30.40" fill="none" stroke="#999" stroke-width="0.5"/>
<line x1="405.0" y1="272.6" x2="405.0" y2="287.2" stroke="#888" stroke-width="0.5"/>
<line x1="408.4" y1="272.6" x2="408.4" y2="287.2" stroke="#888" stroke-width="0.5"/>
<line x1="411.8" y1="272.6" x2="411.8" y2="287.2" stroke="#888" stroke-width="0.5"/>
<line x1="415.2" y1="272.6" x2="415.2" y2="287.2" stroke="#888" stroke-width="0.5"/>
<line x1="418.6" y1="272.6" x2="418.6" y2="287.2" stroke="#888" stroke-width="0.5"/>
<line x1="422.0" y1="272.6" x2="422.0" y2="287.2" stroke="#888" stroke-width="0.5"/>
<line x1="425.4" y1="272.6" x2="425.4" y2="287.2" stroke="#888" stroke-width="0.5"/>
<line x1="428.8" y1="272.6" x2="428.8" y2="287.2" stroke="#888" stroke-width="0.5"/>
<line x1="405.0" y1="288.8" x2="405.0" y2="303" stroke="#888" stroke-width="0.5"/>
<line x1="408.4" y1="288.8" x2="408.4" y2="303" stroke="#888" stroke-width="0.5"/>
<line x1="411.8" y1="288.8" x2="411.8" y2="303" stroke="#888" stroke-width="0.5"/>
<line x1="415.2" y1="288.8" x2="415.2" y2="303" stroke="#888" stroke-width="0.5"/>
<line x1="418.6" y1="288.8" x2="418.6" y2="303" stroke="#888" stroke-width="0.5"/>
<line x1="422.0" y1="288.8" x2="422.0" y2="303" stroke="#888" stroke-width="0.5"/>
<line x1="404.6" y1="272.6" x2="404.6" y2="303" stroke="#999" stroke-width="0.5"/>
<line x1="404.6" y1="287.8" x2="424" y2="287.8" stroke="#888" stroke-width="0.6"/>
<rect x="424.2" y="287.2" width="15.40" height="1.70" fill="#2b2b2b"/>
<rect x="424.2" y="288" width="1.80" height="30.60" fill="#2b2b2b"/>
<rect x="424.2" y="317" width="29.40" height="1.70" fill="#2b2b2b"/>
<rect x="426.5" y="290" width="10.50" height="12.50" fill="#fff" stroke="#999" stroke-width="0.4"/>
<rect x="426.5" y="303.5" width="10.50" height="12.50" fill="#fff" stroke="#999" stroke-width="0.4"/>
<circle cx="431.7" cy="296.3" r="3" fill="none" stroke="#aaa" stroke-width="0.4"/>
<text x="0" y="0" font-family="Liberation Sans, sans-serif" font-size="3.8" font-weight="bold" fill="#2a2a2a" textLength="19.5" lengthAdjust="spacingAndGlyphs" transform="translate(443.6 293.5) rotate(90)">LAUNDRY</text>
<rect x="451.8" y="288" width="1.60" height="30.00" fill="#2b2b2b"/>
<rect x="453.2" y="288.6" width="5.10" height="13.20" fill="#2b2b2b"/>
<rect x="480.4" y="268.2" width="25.60" height="48.60" fill="#f0d8be" stroke="none" stroke-width="0.6"/>
<rect x="458.3" y="268.1" width="11.70" height="1.60" fill="#2b2b2b"/>
<rect x="489.3" y="268.1" width="16.70" height="1.60" fill="#2b2b2b"/>
<rect x="458.3" y="268.1" width="1.50" height="34.60" fill="#2b2b2b"/>
<rect x="458.3" y="301.3" width="9.70" height="1.40" fill="#2b2b2b"/>
<line x1="453.3" y1="264" x2="458.5" y2="268.6" stroke="#333" stroke-width="0.7"/>
<line x1="470" y1="268.5" x2="477.3" y2="262" stroke="#555" stroke-width="0.6"/>
<line x1="489" y1="268.5" x2="481.3" y2="262" stroke="#555" stroke-width="0.6"/>
<path d="M470 268.5 Q474 266 477.3 262" stroke="#bbb" stroke-width="0.4" fill="none"/>
<rect x="459.8" y="269.7" width="7.50" height="31.60" fill="#fff" stroke="#999" stroke-width="0.4"/>
<circle cx="463.5" cy="275.5" r="2.5" fill="none" stroke="#888" stroke-width="0.5"/>
<circle cx="463.5" cy="295" r="2.5" fill="none" stroke="#888" stroke-width="0.5"/>
<text x="0" y="0" font-family="Liberation Sans, sans-serif" font-size="4.8" font-weight="bold" fill="#2a2a2a" stroke="#2a2a2a" stroke-width="0.15" textLength="40.7" lengthAdjust="spacingAndGlyphs" transform="translate(475.2 272) rotate(90)">OWNER'S BATH</text>
<rect x="489.3" y="268.1" width="1.70" height="9.90" fill="#2b2b2b"/>
<line x1="490" y1="278" x2="482" y2="283.5" stroke="#555" stroke-width="0.6"/>
<rect x="489.3" y="284" width="1.70" height="9.30" fill="#2b2b2b"/>
<line x1="491" y1="293.3" x2="506" y2="293.3" stroke="#b09070" stroke-width="0.7"/>
<line x1="501.3" y1="270" x2="501.3" y2="293" stroke="#c0a088" stroke-width="0.4"/>
<line x1="491" y1="281" x2="506" y2="281" stroke="#c8ab92" stroke-width="0.3"/>
<rect x="490.2" y="293.3" width="15.60" height="23.00" fill="none" stroke="#9a7a60" stroke-width="0.5"/>
<line x1="490.2" y1="293.3" x2="505.8" y2="316.3" stroke="#9a7a60" stroke-width="0.5"/>
<line x1="490.2" y1="316.3" x2="505.8" y2="293.3" stroke="#9a7a60" stroke-width="0.5"/>
<line x1="485.3" y1="305.3" x2="490.2" y2="301.3" stroke="#9a7a60" stroke-width="0.5"/>
<rect x="480.7" y="316.5" width="25.30" height="2.00" fill="#2b2b2b"/>
<rect x="453.4" y="301" width="1.60" height="27.50" fill="#2b2b2b"/>
<rect x="453.4" y="327.2" width="16.00" height="1.40" fill="#2b2b2b"/>
<rect x="467.8" y="319.5" width="1.60" height="9.10" fill="#2b2b2b"/>
<ellipse cx="461" cy="323" rx="2.4" ry="2.9" fill="none" stroke="#777" stroke-width="0.5"/>
<rect x="458.5" y="325.5" width="5.00" height="1.70" fill="#fff" stroke="#888" stroke-width="0.4"/>
<path d="M455 302 Q465 303 467.5 312" stroke="#aaa" stroke-width="0.5" fill="none"/>
<path d="M469.4 319.5 Q478 322 480 316.5" stroke="#aaa" stroke-width="0.5" fill="none"/>
<rect x="424" y="317.2" width="29.50" height="1.60" fill="#2b2b2b"/>
<rect x="424" y="345" width="83.60" height="1.60" fill="#2b2b2b"/>
<rect x="433.8" y="344.6" width="9.00" height="2.40" fill="#e4e6df" stroke="#aaa" stroke-width="0.5"/>
<line x1="433.8" y1="345.8" x2="442.8" y2="345.8" stroke="#c8c8c8" stroke-width="0.35"/>
<rect x="473.2" y="344.6" width="13.10" height="2.40" fill="#e4e6df" stroke="#aaa" stroke-width="0.5"/>
<line x1="473.2" y1="345.8" x2="486.3" y2="345.8" stroke="#c8c8c8" stroke-width="0.35"/>
<path d="M428 320 L428 342 M428 342 L451 342" stroke="#bbb" stroke-width="0.5" fill="none"/>
<path d="M473 320.5 L503 320.5 L503 342 L478 342" stroke="#bbb" stroke-width="0.5" fill="none"/>
<text x="463.4" y="337.5" font-family="'Liberation Sans', sans-serif" font-size="4.6" font-weight="bold" fill="#2a2a2a" stroke="#2a2a2a" stroke-width="0.2" textLength="14.50" lengthAdjust="spacingAndGlyphs">W.I.C.</text>
<rect x="424.8" y="346.6" width="30.50" height="22.80" fill="none" stroke="#aaa" stroke-width="0.6" stroke-dasharray="1.5,1"/>
<text x="511.7" y="156" font-family="'Liberation Sans', sans-serif" font-size="6.7" font-weight="bold" fill="#2a2a2a" stroke="#2a2a2a" stroke-width="0.2" textLength="78.30" lengthAdjust="spacingAndGlyphs">OWNER'S BATH OPTIONS</text>
<path d="M535.3 162.7 L538.5 162.7 L542.5 165.5 L560 165.5 L560 213.7 L535.3 213.7 Z" stroke="none" stroke-width="0" fill="#f0d8be"/>
<line x1="535.8" y1="159.7" x2="542.5" y2="165.5" stroke="#444" stroke-width="0.7"/>
<rect x="542.5" y="165.2" width="18.00" height="1.50" fill="#2b2b2b"/>
<rect x="559.8" y="159.5" width="1.80" height="63.20" fill="#2b2b2b"/>
<rect x="535.3" y="213.5" width="25.20" height="1.60" fill="#2b2b2b"/>
<path d="M540.5 215.1 L540.5 220.7 L556 220.7 L556 215.1" stroke="#bbb" stroke-width="0.4" fill="none"/>
<rect x="544" y="166.7" width="15.80" height="22.80" fill="none" stroke="#9a7a62" stroke-width="0.5"/>
<ellipse cx="551.5" cy="178.0" rx="5.2" ry="10" fill="none" stroke="#9a7a62" stroke-width="0.6"/>
<ellipse cx="551.5" cy="178.0" rx="3.8" ry="8.2" fill="none" stroke="#c0a088" stroke-width="0.4"/>
<rect x="544" y="189.5" width="15.80" height="1.50" fill="#b8a090"/>
<rect x="545.5" y="191.0" width="14.30" height="22.50" fill="none" stroke="#9a7a62" stroke-width="0.5"/>
<line x1="545.5" y1="191.0" x2="559.8" y2="213.5" stroke="#9a7a62" stroke-width="0.5"/>
<line x1="545.5" y1="213.5" x2="559.8" y2="191.0" stroke="#9a7a62" stroke-width="0.5"/>
<line x1="535.8" y1="203.7" x2="541.5" y2="197.7" stroke="#9a7a62" stroke-width="0.5"/>
<line x1="541.5" y1="197.7" x2="545.5" y2="194.7" stroke="#9a7a62" stroke-width="0.5"/>
<rect x="559.6" y="170.5" width="2.20" height="15.00" fill="#f4f4f4" stroke="#bbb" stroke-width="0.4"/>
<text x="515" y="231" font-family="'Liberation Sans', sans-serif" font-size="5.3" font-weight="normal" fill="#4a4a4a" stroke="#4a4a4a" stroke-width="0.08" textLength="71.70" lengthAdjust="spacingAndGlyphs">SEPARATE TUB &amp; SHOWER</text>
<path d="M535.3 235.5 L538.5 235.5 L542.5 238.3 L560 238.3 L560 286.5 L535.3 286.5 Z" stroke="none" stroke-width="0" fill="#f0d8be"/>
<line x1="535.8" y1="232.5" x2="542.5" y2="238.3" stroke="#444" stroke-width="0.7"/>
<rect x="542.5" y="238.0" width="18.00" height="1.50" fill="#2b2b2b"/>
<rect x="559.8" y="232.3" width="1.80" height="63.20" fill="#2b2b2b"/>
<rect x="535.3" y="286.3" width="25.20" height="1.60" fill="#2b2b2b"/>
<path d="M540.5 287.9 L540.5 293.5 L556 293.5 L556 287.9" stroke="#bbb" stroke-width="0.4" fill="none"/>
<ellipse cx="551.7" cy="251.8" rx="6.6" ry="11.6" fill="none" stroke="#9a7a62" stroke-width="0.8"/>
<ellipse cx="551.7" cy="251.8" rx="4.6" ry="9.2" fill="none" stroke="#c0a088" stroke-width="0.5"/>
<line x1="544" y1="239.5" x2="544" y2="264.3" stroke="#c0a088" stroke-width="0.4"/>
<line x1="545.5" y1="266.8" x2="559.8" y2="266.8" stroke="#9a7a62" stroke-width="0.6"/>
<rect x="545.5" y="266.8" width="14.30" height="19.50" fill="none" stroke="#9a7a62" stroke-width="0.5"/>
<line x1="545.5" y1="266.8" x2="559.8" y2="286.3" stroke="#9a7a62" stroke-width="0.5"/>
<line x1="545.5" y1="286.3" x2="559.8" y2="266.8" stroke="#9a7a62" stroke-width="0.5"/>
<line x1="535.8" y1="276.5" x2="541.5" y2="270.5" stroke="#9a7a62" stroke-width="0.5"/>
<line x1="541.5" y1="270.5" x2="545.5" y2="267.5" stroke="#9a7a62" stroke-width="0.5"/>
<rect x="559.6" y="243.3" width="2.20" height="15.00" fill="#f4f4f4" stroke="#bbb" stroke-width="0.4"/>
<text x="515" y="306.7" font-family="'Liberation Sans', sans-serif" font-size="5.3" font-weight="normal" fill="#4a4a4a" stroke="#4a4a4a" stroke-width="0.08" textLength="71.70" lengthAdjust="spacingAndGlyphs">SEPARATE FREESTANDING</text>
<text x="530" y="312.7" font-family="'Liberation Sans', sans-serif" font-size="5.3" font-weight="normal" fill="#4a4a4a" stroke="#4a4a4a" stroke-width="0.08" textLength="42.00" lengthAdjust="spacingAndGlyphs">TUB &amp; SHOWER</text>
<path d="M535.3 323.2 L538.5 323.2 L542.5 326 L560 326 L560 374.2 L535.3 374.2 Z" stroke="none" stroke-width="0" fill="#f0d8be"/>
<line x1="535.8" y1="320.2" x2="542.5" y2="326" stroke="#444" stroke-width="0.7"/>
<rect x="542.5" y="325.7" width="18.00" height="1.50" fill="#2b2b2b"/>
<rect x="559.8" y="320" width="1.80" height="63.20" fill="#2b2b2b"/>
<rect x="535.3" y="374.0" width="25.20" height="1.60" fill="#2b2b2b"/>
<path d="M540.5 375.59999999999997 L540.5 381.2 L556 381.2 L556 375.59999999999997" stroke="#bbb" stroke-width="0.4" fill="none"/>
<line x1="553.5" y1="327.2" x2="553.5" y2="341" stroke="#c0a088" stroke-width="0.5"/>
<rect x="544" y="341" width="16.00" height="1.80" fill="#5a4a40"/>
<rect x="545.5" y="342.8" width="14.30" height="31.20" fill="none" stroke="#9a7a62" stroke-width="0.5"/>
<line x1="545.5" y1="342.8" x2="559.8" y2="374.0" stroke="#9a7a62" stroke-width="0.5"/>
<line x1="545.5" y1="374.0" x2="559.8" y2="342.8" stroke="#9a7a62" stroke-width="0.5"/>
<line x1="535.8" y1="364.2" x2="541.5" y2="358.2" stroke="#9a7a62" stroke-width="0.5"/>
<line x1="541.5" y1="358.2" x2="545.5" y2="355.2" stroke="#9a7a62" stroke-width="0.5"/>
<rect x="559.6" y="328.9" width="2.20" height="8.00" fill="#fff" stroke="#bbb" stroke-width="0.4"/>
<rect x="559.6" y="343.4" width="2.20" height="5.10" fill="#fff" stroke="#bbb" stroke-width="0.4"/>
<rect x="559.6" y="350.7" width="2.20" height="5.10" fill="#fff" stroke="#bbb" stroke-width="0.4"/>
<text x="535.2" y="389.6" font-family="'Liberation Sans', sans-serif" font-size="5.3" font-weight="normal" fill="#4a4a4a" stroke="#4a4a4a" stroke-width="0.08" textLength="30.60" lengthAdjust="spacingAndGlyphs">OVERSIZED</text>
<text x="532" y="395.4" font-family="'Liberation Sans', sans-serif" font-size="5.3" font-weight="normal" fill="#4a4a4a" stroke="#4a4a4a" stroke-width="0.08" textLength="37.20" lengthAdjust="spacingAndGlyphs">TILE SHOWER</text>
<text x="114.9" y="414.6" font-family="'Liberation Sans', sans-serif" font-size="7.6" font-weight="normal" fill="#333" stroke="#333" stroke-width="0.18" textLength="35.60" lengthAdjust="spacingAndGlyphs">First Floor</text>
<text x="406.8" y="414.6" font-family="'Liberation Sans', sans-serif" font-size="7.6" font-weight="normal" fill="#333" stroke="#333" stroke-width="0.18" textLength="46.50" lengthAdjust="spacingAndGlyphs">Second Floor</text></svg></body></html>
